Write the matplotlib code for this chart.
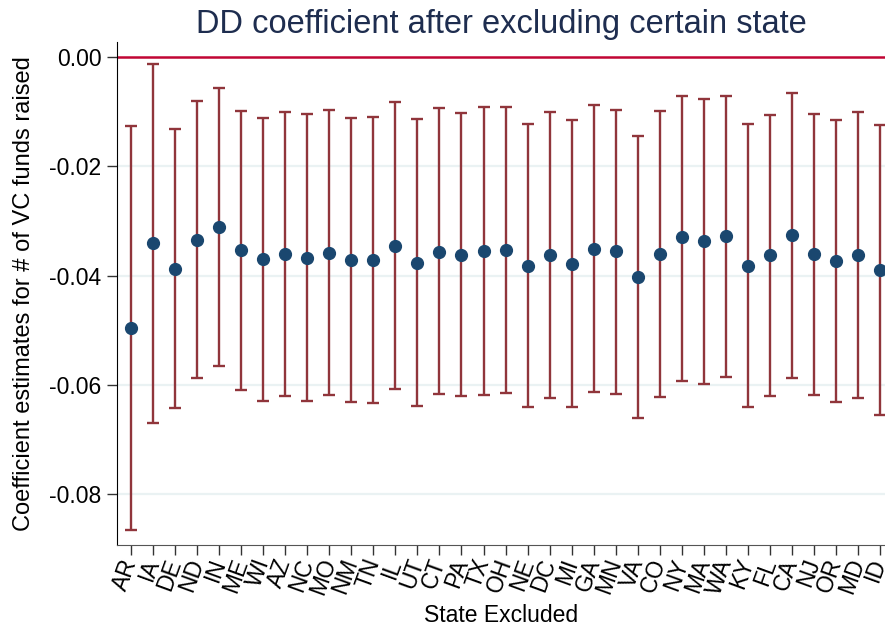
import matplotlib.pyplot as plt
import numpy as np

plt.rcParams['font.family'] = ['Liberation Sans', 'DejaVu Sans']

states = ['AR', 'IA', 'DE', 'ND', 'IN', 'ME', 'WI', 'AZ', 'NC', 'MO', 'NM',
          'TN', 'IL', 'UT', 'CT', 'PA', 'TX', 'OH', 'NE', 'DC', 'MI', 'GA',
          'MN', 'VA', 'CO', 'NY', 'MA', 'WA', 'KY', 'FL', 'CA', 'NJ', 'OR',
          'MD', 'ID']

coef = [-0.0496, -0.0341, -0.0387, -0.0334, -0.0311, -0.0353, -0.0370,
        -0.0360, -0.0367, -0.0359, -0.0371, -0.0371, -0.0346, -0.0376,
        -0.0356, -0.0362, -0.0355, -0.0353, -0.0382, -0.0363, -0.0378,
        -0.0351, -0.0354, -0.0403, -0.0360, -0.0330, -0.0337, -0.0328,
        -0.0382, -0.0363, -0.0326, -0.0360, -0.0374, -0.0363, -0.0389]

ci_hi = [-0.0126, -0.0012, -0.0132, -0.0081, -0.0057, -0.0098, -0.0111,
         -0.0101, -0.0105, -0.0096, -0.0111, -0.0109, -0.0083, -0.0113,
         -0.0093, -0.0103, -0.0092, -0.0092, -0.0123, -0.0101, -0.0115,
         -0.0088, -0.0096, -0.0144, -0.0099, -0.0071, -0.0077, -0.0071,
         -0.0123, -0.0106, -0.0065, -0.0104, -0.0115, -0.0101, -0.0124]

ci_lo = [-0.0866, -0.0669, -0.0642, -0.0587, -0.0565, -0.0609, -0.0630,
         -0.0620, -0.0630, -0.0619, -0.0632, -0.0633, -0.0607, -0.0639,
         -0.0617, -0.0621, -0.0618, -0.0614, -0.0641, -0.0624, -0.0641,
         -0.0612, -0.0616, -0.0661, -0.0622, -0.0592, -0.0599, -0.0586,
         -0.0641, -0.0620, -0.0588, -0.0618, -0.0631, -0.0624, -0.0655]

yticks = [0.0, -0.02, -0.04, -0.06, -0.08]

x = np.arange(len(states))
coef = np.array(coef)
err = np.vstack([coef - np.array(ci_lo), np.array(ci_hi) - coef])

fig = plt.figure(figsize=(8.85, 6.29), dpi=100)
ax = fig.add_axes([0.132, 0.1335, 0.868, 0.80])

# light grid at the labelled ticks, red reference line at zero
for yt in yticks[1:]:
    ax.axhline(yt, color='#eaf2f3', lw=1.6, zorder=0)
ax.axhline(0, color='#c10534', lw=1.8, zorder=1)

ax.errorbar(x, coef, yerr=err, fmt='none', ecolor='#90353b', elinewidth=1.7,
            capsize=4, capthick=1.7, zorder=2)
ax.plot(x, coef, 'o', color='#1a476f', ms=8.5, zorder=3)

ax.set_xlim(-0.65, 34.23)
ax.set_ylim(-0.0893, 0.0028)
ax.set_yticks(yticks)
ax.set_yticklabels([f"{v:.2f}" for v in yticks], fontsize=16.5)
ax.set_xticks(x)
ax.set_xticklabels(states, fontsize=16.5, rotation=70, ha='right',
                   va='center', rotation_mode='anchor')
ax.tick_params(axis='both', length=7.5, width=1, colors='#333333',
               labelcolor='black')
ax.tick_params(axis='x', pad=3)

ax.spines['top'].set_visible(False)
ax.spines['right'].set_visible(False)
ax.spines['left'].set_color('black')
ax.spines['bottom'].set_color('#555555')

ax.set_title('DD coefficient after excluding certain state', fontsize=23.5,
             color='#1e2d4f', pad=6)
ax.set_xlabel('State Excluded', fontsize=16.5, labelpad=4)
ax.set_ylabel('Coefficient estimates for # of VC funds raised', fontsize=17,
              labelpad=10)

fig.savefig('out.png', dpi=100)
